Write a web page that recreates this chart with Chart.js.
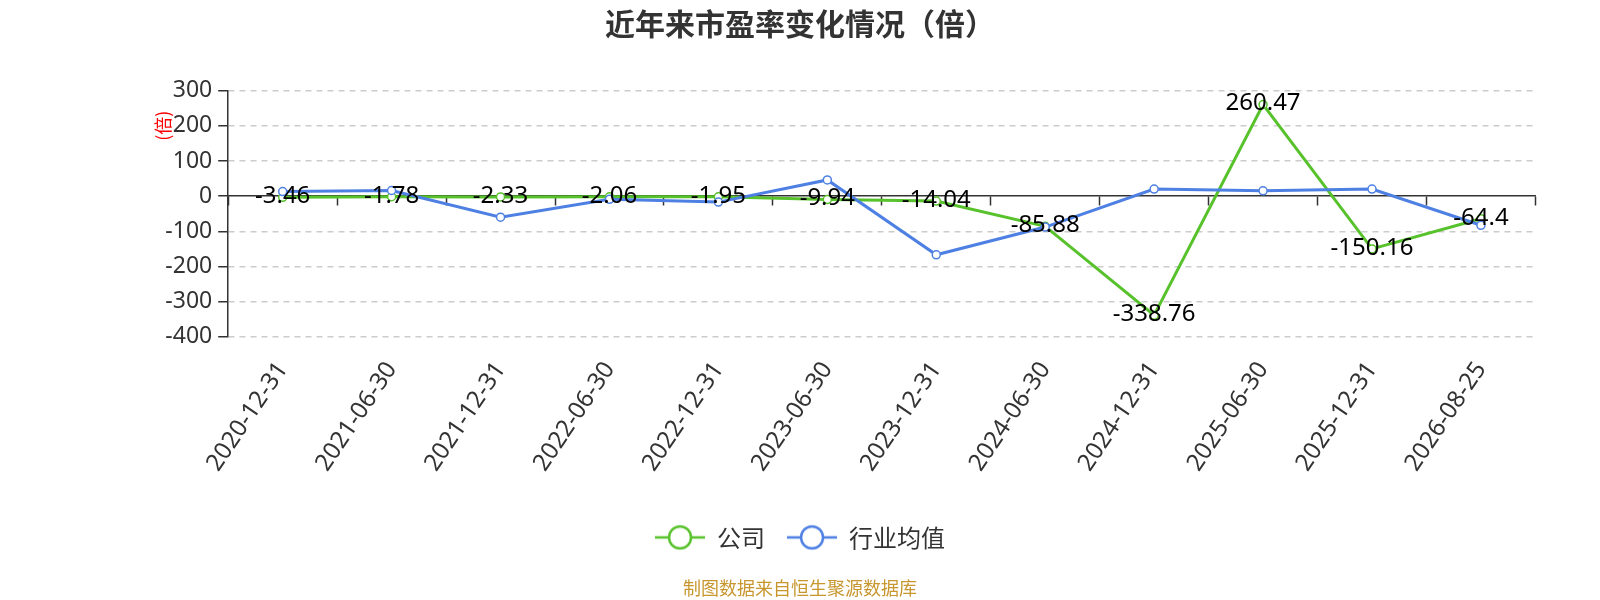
<!DOCTYPE html>
<html>
<head>
<meta charset="utf-8">
<script src="https://cdn.jsdelivr.net/npm/chart.js@4.4.1/dist/chart.umd.min.js"></script>
<style>
  html, body { margin: 0; padding: 0; background: #fff; }
  #wrap { width: 1600px; height: 600px; }
</style>
</head>
<body>
<div id="wrap"><canvas id="peChart" width="1600" height="600"></canvas></div>
<script>
const periods = ['2020-12-31', '2021-06-30', '2021-12-31', '2022-06-30', '2022-12-31', '2023-06-30',
  '2023-12-31', '2024-06-30', '2024-12-31', '2025-06-30', '2025-12-31', '2026-08-25'];
const company = [-3.46, -1.78, -2.33, -2.06, -1.95, -9.94, -14.04, -85.88, -338.76, 260.47, -150.16, -64.4];
const industryAvg = [13, 16, -60, -9, -17, 46, -167, -88, 20, 15, 20, -83];
const yTicks = [300, 200, 100, 0, -100, -200, -300, -400];

const GREEN = '#58c22c';
const BLUE = '#4e80e3';
const CJK = '"Noto Sans CJK SC", "Noto Sans", sans-serif';
const NUM = '"Noto Sans", "Noto Sans CJK SC", sans-serif';

// legend marker: short line with a hollow circle
function legendMark(color) {
  const c = document.createElement('canvas');
  c.width = 50; c.height = 28;
  const g = c.getContext('2d');
  g.strokeStyle = color; g.lineWidth = 2.5;
  g.beginPath(); g.moveTo(0, 14); g.lineTo(50, 14); g.stroke();
  g.beginPath(); g.arc(25, 14, 11, 0, Math.PI * 2);
  g.fillStyle = '#fff'; g.fill(); g.lineWidth = 2.5; g.stroke();
  return c;
}

const valueLabels = {
  id: 'valueLabels',
  afterDatasetsDraw(chart) {
    const ctx = chart.ctx;
    const meta = chart.getDatasetMeta(0);
    ctx.save();
    ctx.font = '24px ' + NUM;
    ctx.fillStyle = '#000';
    ctx.textAlign = 'center';
    ctx.textBaseline = 'middle';
    meta.data.forEach((pt, i) => ctx.fillText(String(company[i]), pt.x, pt.y - 1));
    // y axis name
    ctx.translate(chart.chartArea.left - 65, chart.chartArea.top + 35);
    ctx.rotate(-Math.PI / 2);
    ctx.font = '18px ' + CJK;
    ctx.fillStyle = '#ff0000';
    ctx.fillText('(倍)', 0, 0);
    ctx.restore();
  }
};

new Chart(document.getElementById('peChart'), {
  type: 'line',
  data: {
    labels: periods,
    datasets: [
      { label: '公司', data: company, borderColor: GREEN, backgroundColor: '#fff', borderWidth: 3,
        pointRadius: 4, pointBorderWidth: 1.5, pointBackgroundColor: '#fff', pointBorderColor: GREEN,
        tension: 0, order: 1 },
      { label: '行业均值', data: industryAvg, borderColor: BLUE, backgroundColor: '#fff', borderWidth: 3,
        pointRadius: 4, pointBorderWidth: 1.5, pointBackgroundColor: '#fff', pointBorderColor: BLUE,
        tension: 0, order: 0 },
    ],
  },
  options: {
    responsive: false,
    animation: false,
    devicePixelRatio: 1,
    layout: { padding: 0 },
    plugins: {
      tooltip: { enabled: false },
      title: {
        display: true, text: '近年来市盈率变化情况（倍）', color: '#333',
        font: { family: CJK, size: 30, weight: 'bold' },
        padding: { top: 6, bottom: 48.7 },
      },
      subtitle: {
        display: true, position: 'bottom', text: '制图数据来自恒生聚源数据库', color: '#c8962e',
        font: { family: CJK, size: 18 },
        padding: { top: 18, bottom: 1 },
      },
      legend: {
        position: 'bottom',
        labels: {
          usePointStyle: true, pointStyleWidth: 50, padding: 22, color: '#333',
          font: { family: CJK, size: 24 },
          generateLabels: () => [
            { text: '公司', pointStyle: legendMark(GREEN), fontColor: '#333', datasetIndex: 0, lineWidth: 0 },
            { text: '行业均值', pointStyle: legendMark(BLUE), fontColor: '#333', datasetIndex: 1, lineWidth: 0 },
          ],
        },
      },
    },
    scales: {
      x: {
        type: 'category', offset: true,
        grid: { display: false },
        border: { display: false },
        ticks: { color: '#333', font: { family: NUM, size: 24 }, maxRotation: 56, minRotation: 56, padding: 12, autoSkip: false },
        afterFit(scale) { scale.height = 166.7; },
      },
      x2: {
        type: 'category', labels: periods, offset: true, position: { y: 0 },
        grid: { drawOnChartArea: false, drawTicks: true, offset: true, tickLength: 9, tickColor: '#333', tickWidth: 1.5 },
        border: { display: true, color: '#333', width: 1.5 },
        ticks: { display: false },
      },
      y: {
        min: -400, max: 300,
        afterBuildTicks(scale) { scale.ticks = yTicks.map(v => ({ value: v })); },
        grid: {
          color: ctx => (ctx.tick && ctx.tick.value === 0 ? 'rgba(0,0,0,0)' : '#cccccc'),
          lineWidth: 1.5, tickLength: 10, tickColor: '#333', tickWidth: 1.5,
        },
        border: { display: true, color: '#333', width: 1.5, dash: [6, 5] },
        ticks: { color: '#333', font: { family: NUM, size: 23 }, padding: 6 },
        afterFit(scale) { scale.width = 228.2; },
      },
      // empty right-hand spacer so the plot ends where the reference's does
      ySpace: {
        position: 'right', min: -400, max: 300,
        grid: { drawOnChartArea: false, drawTicks: false },
        border: { display: false },
        ticks: { display: false },
        afterFit(scale) { scale.width = 64.6; },
      },
    },
  },
  plugins: [valueLabels],
});
</script>
</body>
</html>
